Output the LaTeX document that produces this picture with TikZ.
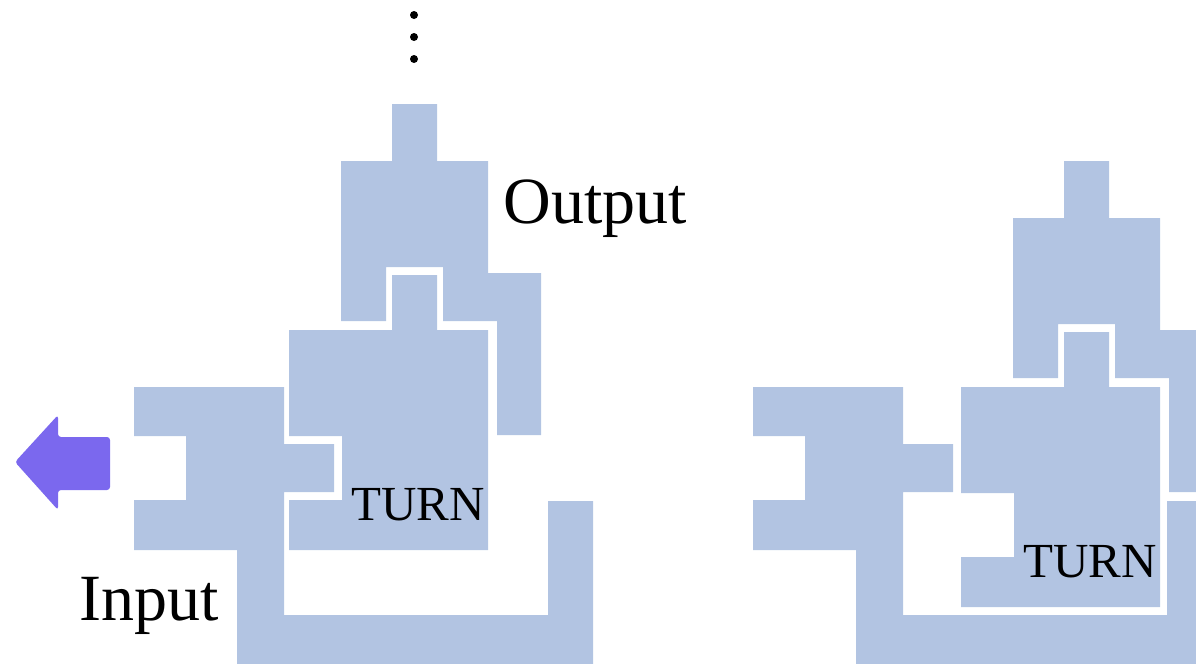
\documentclass[tikz,border=0pt]{standalone}
\usepackage{fontspec}
\setmainfont{Liberation Serif}
\usepackage{tikz}
\definecolor{tileblue}{RGB}{178,196,226}
\definecolor{arrowpurple}{RGB}{123,104,238}
\tikzstyle{tile}=[fill=tileblue,draw=none]
\tikzstyle{iolabel}=[inner sep=0pt,anchor=base west,font=\fontsize{33}{40}\selectfont]
\tikzstyle{turnlabel}=[inner sep=0pt,anchor=base west,font=\fontsize{24.5}{30}\selectfont]
\tikzstyle{ellipsisdot}=[circle,fill=black,inner sep=0pt,minimum size=4pt]

\begin{document}
\begin{tikzpicture}[x=0.5pt,y=-0.5pt]
\useasboundingbox (0,0) rectangle (1196,664);

    % The input tile, once on each side
    \foreach \dx in {0,619}
        \path[tile, shift={(\dx,0)}] (134,387) -- (284,387) -- (284,444) -- (334,444) -- (334,492) -- (284,492) -- (284,615) -- (548,615) -- (548,501) -- (593,501) -- (593,664) -- (237,664) -- (237,550) -- (134,550) -- (134,500) -- (186,500) -- (186,436) -- (134,436) -- cycle;

    % Output tile with the TURN tile under it, one step lower on the right
    \foreach \dx/\dy/\name in {0/0/A, 672/57/B} {
        \path[tile, shift={(\dx,\dy)}] (392,104) -- (437,104) -- (437,161) -- (488,161) -- (488,273) -- (541,273) -- (541,435) -- (497,435) -- (497,321) -- (443,321) -- (443,267) -- (386,267) -- (386,321) -- (341,321) -- (341,161) -- (392,161) -- cycle;
        \path[tile, shift={(\dx,\dy)}] (289,330) -- (392,330) -- (392,275) -- (437,275) -- (437,330) -- (488,330) -- (488,550) -- (289,550) -- (289,500) -- (342,500) -- (342,436) -- (289,436) -- cycle;
        \node[turnlabel] (turn\name) at (351+\dx,520+\dy) {TURN};
    }

    % the arrow on the far left
    \fill[arrowpurple, rounded corners=1.5pt] (15,462) -- (58,415) -- (58,437) -- (110,437) -- (110,490) -- (58,490) -- (58,510) -- cycle;

    \node[iolabel] (output) at (503,223) {Output};
    \node[iolabel] (input) at (79,620) {Input};

    % dots going on upwards
    \foreach \i/\y in {1/15, 2/37, 3/59}
        \node[ellipsisdot] (dot\i) at (414,\y) {};

\end{tikzpicture}
\end{document}
